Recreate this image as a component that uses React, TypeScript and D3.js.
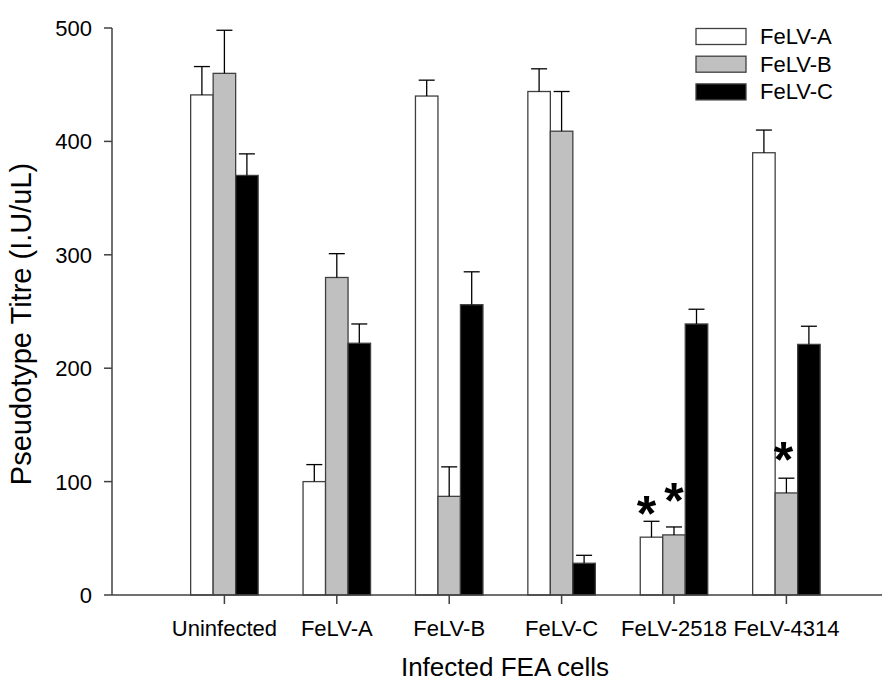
import React, { useRef, useEffect } from "react";
import * as d3 from "d3";

const groups = ["Uninfected", "FeLV-A", "FeLV-B", "FeLV-C", "FeLV-2518", "FeLV-4314"];
const seriesNames = ["FeLV-A", "FeLV-B", "FeLV-C"];
const seriesFill = ["#ffffff", "#c0c0c0", "#000000"];

// mean titre per infected cell type, one array per pseudotype
const titreA = [441, 100, 440, 444, 51, 390];
const titreB = [460, 280, 87, 409, 53, 90];
const titreC = [370, 222, 256, 28, 239, 221];
// upper error bar ends
const errA = [466, 115, 454, 464, 65, 410];
const errB = [498, 301, 113, 444, 60, 103];
const errC = [389, 239, 285, 35, 252, 237];

const yTicks = [0, 100, 200, 300, 400, 500];

// significance marks: group index, series index, height (data units), nudge in px
const starGroup = [4, 4, 5];
const starSeries = [0, 1, 1];
const starLevel = [81, 93, 129];
const starNudge = [-5, 0, -3];

const W = 882;
const H = 684;

export default function App() {
  const ref = useRef<SVGSVGElement>(null);

  useEffect(() => {
    const svg = d3.select(ref.current);
    svg.selectAll("*").remove();

    const font = "Arial, 'Liberation Sans', sans-serif";
    const axisCol = "#404040";

    const y = d3.scaleLinear().domain([0, 500]).range([595, 28]);
    const x = d3.scaleLinear().domain([0, 7]).range([112, 112 + 7 * 112.4]);
    const bw = 22.5;

    const vals = [titreA, titreB, titreC];
    const errs = [errA, errB, errC];

    const g = svg.append("g");

    // bars
    vals.forEach((arr, s) => {
      g.selectAll(null)
        .data(arr)
        .join("rect")
        .attr("x", (d, i) => x(i + 1) + (s - 1.5) * bw)
        .attr("y", (d) => y(d))
        .attr("width", bw)
        .attr("height", (d) => y(0) - y(d))
        .attr("fill", seriesFill[s])
        .attr("stroke", axisCol)
        .attr("stroke-width", 1.3);
    });

    // error bars (upper only)
    vals.forEach((arr, s) => {
      arr.forEach((v, i) => {
        const cx = x(i + 1) + (s - 1) * bw;
        const top = y(errs[s][i]);
        g.append("line")
          .attr("x1", cx).attr("x2", cx)
          .attr("y1", y(v)).attr("y2", top)
          .attr("stroke", "#000").attr("stroke-width", 1.3);
        g.append("line")
          .attr("x1", cx - 8).attr("x2", cx + 8)
          .attr("y1", top).attr("y2", top)
          .attr("stroke", "#000").attr("stroke-width", 1.3);
      });
    });

    // asterisks
    starGroup.forEach((gi, k) => {
      const cx = x(gi + 1) + (starSeries[k] - 1) * bw + starNudge[k];
      g.append("text")
        .attr("x", cx)
        .attr("y", y(starLevel[k]) + 28)
        .attr("text-anchor", "middle")
        .attr("font-family", font)
        .attr("font-weight", "bold")
        .attr("font-size", 50)
        .attr("fill", "#000")
        .text("*");
    });

    // y axis
    g.append("line")
      .attr("x1", 112).attr("x2", 112)
      .attr("y1", y(0)).attr("y2", y(500))
      .attr("stroke", axisCol).attr("stroke-width", 1.5);
    yTicks.forEach((t) => {
      g.append("line")
        .attr("x1", 104).attr("x2", 112)
        .attr("y1", y(t)).attr("y2", y(t))
        .attr("stroke", axisCol).attr("stroke-width", 1.5);
      g.append("text")
        .attr("x", 92)
        .attr("y", y(t) + 8)
        .attr("text-anchor", "end")
        .attr("font-family", font)
        .attr("font-size", 22)
        .attr("fill", "#000")
        .text(t);
    });

    // x axis
    g.append("line")
      .attr("x1", 112).attr("x2", W)
      .attr("y1", y(0)).attr("y2", y(0))
      .attr("stroke", axisCol).attr("stroke-width", 1.5);
    groups.forEach((name, i) => {
      g.append("line")
        .attr("x1", x(i + 1)).attr("x2", x(i + 1))
        .attr("y1", y(0)).attr("y2", y(0) + 9)
        .attr("stroke", axisCol).attr("stroke-width", 1.5);
      g.append("text")
        .attr("x", x(i + 1))
        .attr("y", 636)
        .attr("text-anchor", "middle")
        .attr("font-family", font)
        .attr("font-size", 22)
        .attr("fill", "#000")
        .text(name);
    });

    // axis titles
    g.append("text")
      .attr("x", 505)
      .attr("y", 676)
      .attr("text-anchor", "middle")
      .attr("font-family", font)
      .attr("font-size", 26)
      .attr("fill", "#000")
      .text("Infected FEA cells");
    g.append("text")
      .attr("transform", "translate(31,324) rotate(-90)")
      .attr("text-anchor", "middle")
      .attr("font-family", font)
      .attr("font-size", 29)
      .attr("fill", "#000")
      .text("Pseudotype Titre (I.U/uL)");

    // legend
    seriesNames.forEach((name, s) => {
      const ly = 28.5 + s * 27.7;
      g.append("rect")
        .attr("x", 696).attr("y", ly)
        .attr("width", 50).attr("height", 16)
        .attr("fill", seriesFill[s])
        .attr("stroke", axisCol).attr("stroke-width", 1.3);
      g.append("text")
        .attr("x", 760)
        .attr("y", ly + 15.5)
        .attr("font-family", font)
        .attr("font-size", 22)
        .attr("fill", "#000")
        .text(name);
    });
  }, []);

  return (
    <svg
      ref={ref}
      width={W}
      height={H}
      style={{ position: "absolute", left: 0, top: 0, background: "#fff" }}
    ></svg>
  );
}
